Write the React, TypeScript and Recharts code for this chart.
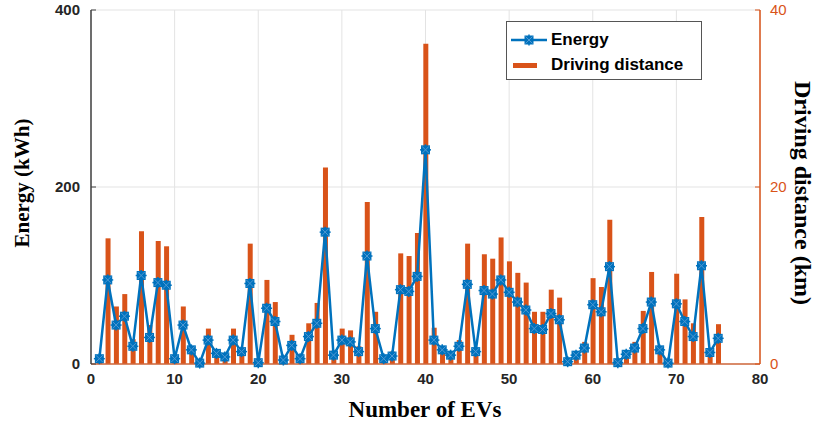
import React from 'react';
import {
  ComposedChart,
  Bar,
  Line,
  XAxis,
  YAxis,
  CartesianGrid,
} from 'recharts';

// EV index 1..75
const evIndex = Array.from({ length: 75 }, (_, i) => i + 1);

// energy per EV (kWh)
const energy = [
  6, 95, 44, 54, 20, 100, 30, 92, 89, 6,
  44, 16, 1, 27, 12, 8, 27, 14, 91, 1.5,
  63, 48, 4.5, 21, 6, 31, 46, 149, 10, 27,
  25, 14, 122, 40, 6, 9, 84, 82, 99, 242,
  27, 16, 10, 20, 90, 14, 83, 79, 95, 81,
  70, 61, 40, 39, 57, 50, 2.6, 10, 18, 67,
  59, 110, 1.5, 11, 18, 40, 70, 16, 1, 68,
  48, 31, 111, 13, 29,
];

// driving distance per EV (km)
const distance = [
  0.8, 14.2, 6.5, 7.9, 2.8, 15.0, 4.4, 13.9, 13.3, 0.8,
  6.5, 2.0, 0, 4.0, 1.4, 1.0, 4.0, 1.7, 13.6, 0,
  9.5, 7.0, 0.8, 3.3, 0.9, 4.6, 6.9, 22.2, 1.5, 4.0,
  3.8, 2.0, 18.3, 5.9, 0.9, 1.4, 12.5, 12.2, 14.8, 36.2,
  4.1, 1.7, 1.3, 2.7, 13.6, 1.6, 12.4, 11.9, 14.3, 11.6,
  10.3, 9.2, 5.9, 5.9, 8.4, 7.5, 0.3, 1.4, 2.5, 9.7,
  8.7, 16.3, 0, 1.4, 2.5, 6.0, 10.4, 1.9, 0, 10.2,
  7.3, 4.6, 16.6, 1.5, 4.5,
];

const xTicks = [0, 10, 20, 30, 40, 50, 60, 70, 80];
const energyTicks = [0, 200, 400];
const distanceTicks = [0, 20, 40];

const BLUE = '#0072BD';
const ORANGE = '#D95319';
const SERIF = '"Liberation Serif", "Times New Roman", serif';
const SANS = '"Liberation Sans", Arial, sans-serif';

const data = evIndex.map((x, i) => ({ x, energy: energy[i], distance: distance[i] }));

const Marker = (props: any) => {
  const { cx, cy } = props;
  if (cx == null || cy == null) return null;
  const r = 5.5;
  return (
    <g>
      <rect x={cx - 4.5} y={cy - 4.5} width={9} height={9} fill={BLUE} />
      <line x1={cx - r} y1={cy} x2={cx + r} y2={cy} stroke={BLUE} strokeWidth={1.5} />
      <line x1={cx} y1={cy - r} x2={cx} y2={cy + r} stroke={BLUE} strokeWidth={1.5} />
      <line x1={cx - 3.5} y1={cy - 3.5} x2={cx + 3.5} y2={cy + 3.5} stroke="#4f98d3" strokeWidth={1} />
      <line x1={cx - 3.5} y1={cy + 3.5} x2={cx + 3.5} y2={cy - 3.5} stroke="#4f98d3" strokeWidth={1} />
    </g>
  );
};

const titleStyle = { fontFamily: SERIF, fontWeight: 700, fontSize: 21, fill: '#000' };

export default function App() {
  return (
    <div style={{ position: 'absolute', left: 0, top: 0, width: 817, height: 428, background: '#fff' }}>
      <ComposedChart
        width={817}
        height={428}
        data={data}
        margin={{ top: 10, right: 0, bottom: 0, left: 0 }}
      >
        <CartesianGrid stroke="#e3e3e3" strokeWidth={1} yAxisId="left" />
        <XAxis
          dataKey="x"
          type="number"
          domain={[0, 80]}
          ticks={xTicks}
          height={64}
          tickSize={0}
          tickMargin={9}
          axisLine={{ stroke: '#d0683c', strokeWidth: 1.5 }}
          tick={{ fontFamily: SANS, fontWeight: 700, fontSize: 15, fill: '#262626' }}
          label={{
            content: () => (
              <text x={425} y={417} textAnchor="middle" style={{ ...titleStyle, fontSize: 23 }}>
                Number of EVs
              </text>
            ),
          }}
        />
        <XAxis
          xAxisId="top"
          dataKey="x"
          type="number"
          orientation="top"
          domain={[0, 80]}
          ticks={xTicks}
          height={0}
          tickSize={-5}
          tickFormatter={() => ''}
          axisLine={{ stroke: '#404040', strokeWidth: 1.5 }}
          tickLine={{ stroke: '#404040' }}
        />
        <YAxis
          yAxisId="left"
          domain={[0, 400]}
          ticks={energyTicks}
          width={91}
          tickSize={-5}
          tickMargin={16}
          axisLine={{ stroke: '#404040', strokeWidth: 1.5 }}
          tickLine={{ stroke: '#404040' }}
          tick={{ fontFamily: SANS, fontWeight: 700, fontSize: 15, fill: '#262626' }}
          label={{
            content: () => (
              <text x={22} y={183} textAnchor="middle" dominantBaseline="central" transform="rotate(-90 22 183)" style={titleStyle}>
                Energy (kWh)
              </text>
            ),
          }}
        />
        <YAxis
          yAxisId="right"
          orientation="right"
          domain={[0, 40]}
          ticks={distanceTicks}
          width={57}
          tickSize={-5}
          tickMargin={15}
          axisLine={{ stroke: ORANGE, strokeWidth: 1.5 }}
          tickLine={{ stroke: ORANGE }}
          tick={{ fontFamily: SANS, fontSize: 15, fill: ORANGE }}
          label={{
            content: () => (
              <text x={803} y={193} textAnchor="middle" dominantBaseline="central" transform="rotate(90 803 193)" style={{ ...titleStyle, fontSize: 24 }}>
                Driving distance (km)
              </text>
            ),
          }}
        />
        <Bar
          yAxisId="right"
          dataKey="distance"
          fill={ORANGE}
          barSize={5}
          isAnimationActive={false}
        />
        <Line
          yAxisId="left"
          dataKey="energy"
          stroke={BLUE}
          strokeWidth={2.5}
          dot={<Marker />}
          activeDot={false}
          isAnimationActive={false}
        />
      </ComposedChart>
      <div
        style={{
          position: 'absolute',
          left: 506,
          top: 21,
          width: 196,
          height: 59,
          border: '1.5px solid #555',
          background: '#fff',
          fontFamily: SANS,
          fontWeight: 700,
          fontSize: 17,
          color: '#000',
          boxSizing: 'border-box',
        }}
      >
        <div style={{ position: 'absolute', left: 4, top: 8, display: 'flex', alignItems: 'center' }}>
          <svg width={36} height={14}>
            <line x1={0} y1={7} x2={36} y2={7} stroke={BLUE} strokeWidth={2.5} />
            <Marker cx={18} cy={7} />
          </svg>
          <span style={{ marginLeft: 4 }}>Energy</span>
        </div>
        <div style={{ position: 'absolute', left: 4, top: 33, display: 'flex', alignItems: 'center' }}>
          <svg width={36} height={14}>
            <rect x={2} y={5} width={24} height={5} fill={ORANGE} />
          </svg>
          <span style={{ marginLeft: 4 }}>Driving distance</span>
        </div>
      </div>
    </div>
  );
}
